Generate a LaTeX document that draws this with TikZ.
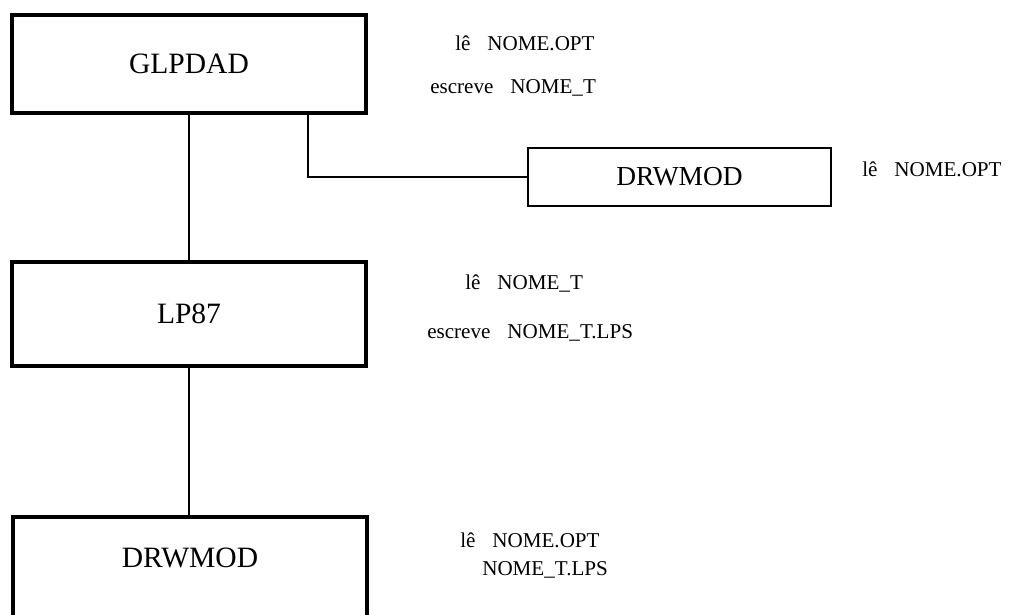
\documentclass[tikz,border=0pt]{standalone}
\usepackage{fontspec}
\setmainfont{Liberation Serif}
\usetikzlibrary{positioning,calc}

\begin{document}
\begin{tikzpicture}[x=0.025cm,y=-0.025cm,
  bigbox/.style={draw,line width=2.8pt,font=\fontsize{21}{25}\selectfont},
  smallbox/.style={draw,line width=1.4pt,font=\fontsize{19.5}{23}\selectfont},
  note/.style={font=\fontsize{15}{18}\selectfont,anchor=base west,inner sep=0pt},
  link/.style={line width=1.4pt}]
  \useasboundingbox (0,0) rectangle (1021,614);

  % programs
  \node[bigbox,minimum width=8.825cm,minimum height=2.45cm] (glpdad) at (189,64) {GLPDAD};
  \node[smallbox,minimum width=7.575cm,minimum height=1.45cm] (drwtop) at (679.5,177) {DRWMOD};
  \node[bigbox,minimum width=8.825cm,minimum height=2.6cm] (lp) at (189,314) {LP87};
  \node[bigbox,minimum width=8.85cm,minimum height=3.75cm,anchor=north] (drwbot) at (190,515) {};
  \node[font=\fontsize{21}{25}\selectfont] (drwbotlabel) at (190,558) {DRWMOD};

  % calls
  \draw[link] (glpdad.south) -- (lp.north);
  \draw[link] ($(glpdad.south)+(119,0)$) |- (drwtop.west);
  \draw[link] (lp.south) -- (lp.south |- drwbot.north);

  % files
  \node[note] (readopt) at (455,50) {lê\hspace{0.8em}NOME.OPT};
  \node[note] (writet) at (430,93) {escreve\hspace{0.8em}NOME\_T};
  \node[note] (readoptb) at (862,176) {lê\hspace{0.8em}NOME.OPT};
  \node[note] (readt) at (465,289) {lê\hspace{0.8em}NOME\_T};
  \node[note] (writelps) at (427,338) {escreve\hspace{0.8em}NOME\_T.LPS};
  \node[note] (readoptc) at (460,547) {lê\hspace{0.8em}NOME.OPT};
  \node[note] (readlps) at (482,575) {NOME\_T.LPS};
\end{tikzpicture}
\end{document}
